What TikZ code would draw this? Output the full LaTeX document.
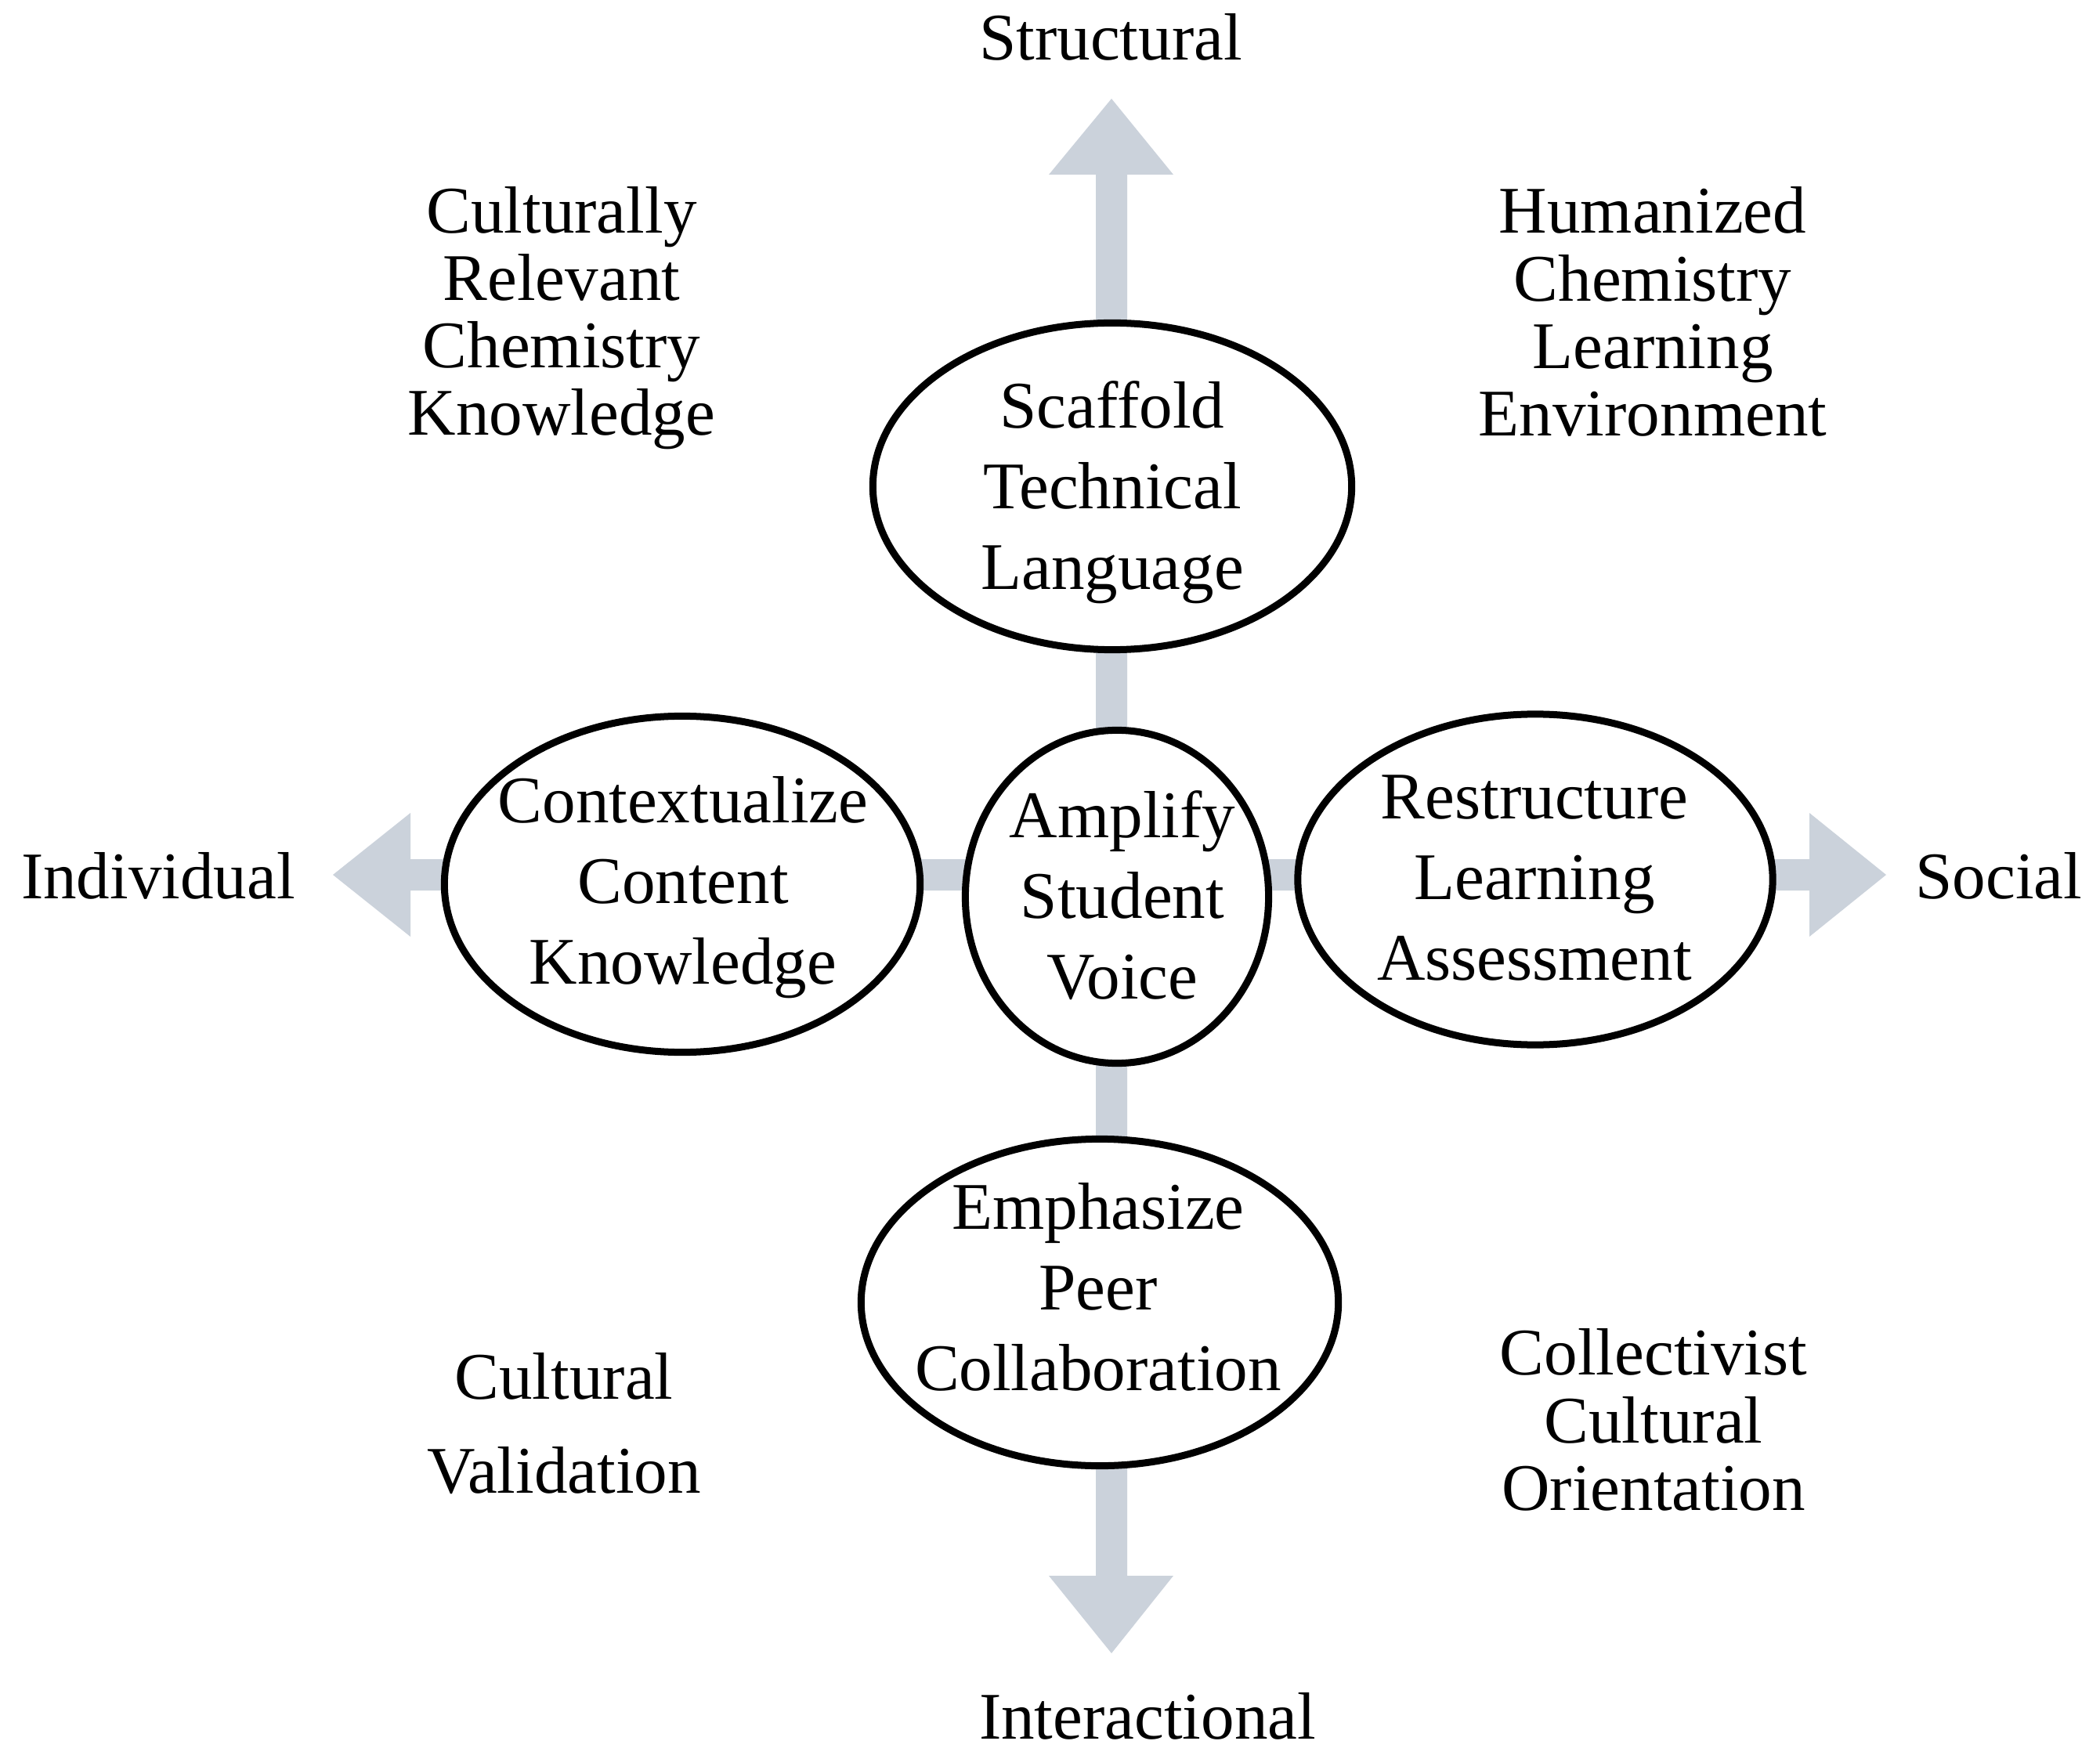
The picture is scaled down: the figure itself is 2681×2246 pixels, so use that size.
\documentclass[tikz,border=0pt]{standalone}
\usepackage{fontspec}
\setmainfont{Liberation Serif}
\usetikzlibrary{shapes.geometric}
\definecolor{axisgray}{RGB}{203,210,219}
\begin{document}
\begin{tikzpicture}[x=0.01cm,y=-0.01cm,
  axis/.style={fill=axisgray},
  oval/.style={ellipse,draw=black,line width=0.09cm,fill=white,inner sep=0pt},
  ovaltext/.style={align=center,inner sep=0pt,font=\fontsize{24.2}{29.3}\selectfont},
  cornertext/.style={align=center,inner sep=0pt,font=\fontsize{24.2}{24.5}\selectfont},
  widetext/.style={align=center,inner sep=0pt,font=\fontsize{24.2}{34.1}\selectfont},
  axislabel/.style={anchor=base,inner sep=0pt,font=\fontsize{24.2}{29.3}\selectfont}]
\useasboundingbox (0,0) rectangle (2681,2246);
% axis tips
\coordinate (vtop) at (1419,126);
\coordinate (vbot) at (1419,2111);
\coordinate (hleft) at (425,1117);
\coordinate (hright) at (2408,1117);
% vertical axis
\fill[axis] (1399,223) -- (1339,223) -- (vtop) -- (1498,223) -- (1439,223)
  -- (1439,2012) -- (1498,2012) -- (vbot) -- (1339,2012) -- (1399,2012) -- cycle;
% horizontal axis
\fill[axis] (524,1097) -- (524,1038) -- (hleft) -- (524,1196) -- (524,1137)
  -- (2310,1137) -- (2310,1196) -- (hright) -- (2310,1038) -- (2310,1097) -- cycle;
% ovals
\node[oval,minimum width=6.11cm,minimum height=4.17cm] (top) at (1420,621) {};
\node[oval,minimum width=6.07cm,minimum height=4.29cm] (left) at (871,1129) {};
\node[oval,minimum width=3.87cm,minimum height=4.25cm] (mid) at (1426,1145) {};
\node[oval,minimum width=6.06cm,minimum height=4.22cm] (right) at (1960,1123) {};
\node[oval,minimum width=6.09cm,minimum height=4.17cm] (bot) at (1404,1663) {};
% oval texts
\node[ovaltext] (topt) at (1420,629) {Scaffold\\Technical\\Language};
\node[ovaltext] (midt) at (1433,1143) {Amplify\\Student\\Voice};
\node[ovaltext] (leftt) at (872,1133) {Contextualize\\Content\\Knowledge};
\node[ovaltext] (rightt) at (1959,1121) {Restructure\\Learning\\Assessment};
\node[ovaltext] (bott) at (1402,1643) {Emphasize\\Peer\\Collaboration};
% axis labels
\node[axislabel] (structural) at (1418,77) {Structural};
\node[axislabel] (interactional) at (1465,2220) {Interactional};
\node[axislabel] (individual) at (202,1147) {Individual};
\node[axislabel] (social) at (2552,1147) {Social};
% quadrant labels
\node[cornertext] (crck) at (717,406) {Culturally\\Relevant\\Chemistry\\Knowledge};
\node[cornertext] (hcle) at (2110,398) {Humanized\\Chemistry\\Learning\\Environment};
\node[widetext] (cv) at (720,1818) {Cultural\\Validation};
\node[cornertext] (cco) at (2111,1813) {Collectivist\\Cultural\\Orientation};
\end{tikzpicture}
\end{document}
